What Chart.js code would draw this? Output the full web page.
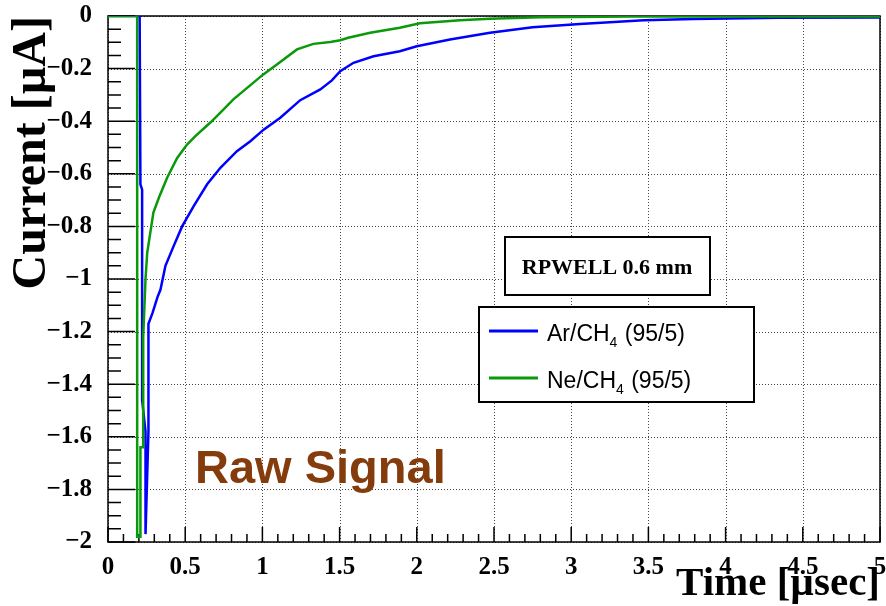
<!DOCTYPE html>
<html>
<head>
<meta charset="utf-8">
<script src="https://cdn.jsdelivr.net/npm/chart.js@4"></script>
<style>
  body { margin: 0; background: #fff; }
  #wrap { width: 886px; height: 606px; }
</style>
</head>
<body>
<div id="wrap"><canvas id="grafico" width="886" height="606"></canvas></div>
<script>
// Ar/CH4 (95/5) - tempo em usec, corrente em uA
var arTime    = [0, 0.205, 0.21, 0.221, 0.221, 0.243, 0.243, 0.262, 0.262, 0.288, 0.32, 0.34, 0.372, 0.425, 0.48, 0.555, 0.642, 0.728, 0.835, 0.922, 1.008, 1.116, 1.245, 1.375, 1.45, 1.504, 1.59, 1.72, 1.89, 2.0, 2.215, 2.474, 2.75, 3.056, 3.25, 3.47, 3.79, 4.35, 5.0];
var arCurrent = [0, 0, -0.64, -0.66, -1.46, -1.58, -1.97, -1.58, -1.17, -1.13, -1.07, -1.04, -0.95, -0.875, -0.8, -0.723, -0.64, -0.577, -0.514, -0.476, -0.432, -0.387, -0.32, -0.279, -0.245, -0.21, -0.178, -0.153, -0.134, -0.115, -0.089, -0.064, -0.043, -0.03, -0.024, -0.016, -0.011, -0.007, -0.006];

// Ne/CH4 (95/5)
var neTime    = [0, 0.189, 0.189, 0.2, 0.21, 0.21, 0.228, 0.228, 0.243, 0.254, 0.275, 0.294, 0.33, 0.383, 0.448, 0.512, 0.566, 0.663, 0.728, 0.812, 1.006, 1.094, 1.224, 1.33, 1.44, 1.504, 1.556, 1.698, 1.89, 2.02, 2.28, 2.47, 2.8, 3.4, 5.0];
var neCurrent = [0, 0, -1.98, -1.98, -1.98, -1.64, -1.64, -1.22, -1.0, -0.9, -0.82, -0.747, -0.69, -0.615, -0.54, -0.489, -0.457, -0.405, -0.367, -0.317, -0.222, -0.184, -0.127, -0.106, -0.099, -0.092, -0.083, -0.064, -0.045, -0.028, -0.016, -0.01, -0.005, -0.002, -0.002];

// eixos
var xTickValues = [0, 0.5, 1, 1.5, 2, 2.5, 3, 3.5, 4, 4.5, 5];
var xTickLabels = ['0', '0.5', '1', '1.5', '2', '2.5', '3', '3.5', '4', '4.5', '5'];
var yTickValues = [0, -0.2, -0.4, -0.6, -0.8, -1, -1.2, -1.4, -1.6, -1.8, -2];
var yTickLabels = ['0', '\u22120.2', '\u22120.4', '\u22120.6', '\u22120.8', '\u22121', '\u22121.2', '\u22121.4', '\u22121.6', '\u22121.8', '\u22122'];

var serif = 'Liberation Serif';
var sans = 'Liberation Sans';

function pares(xs, ys) {
    return xs.map(function (v, i) { return { x: v, y: ys[i] }; });
}

// grade pontilhada, moldura e marcas de escala (estilo ROOT, para dentro)
var moldura = {
    id: 'moldura',
    beforeDatasetsDraw: function (chart) {
        var ctx = chart.ctx, a = chart.chartArea;
        var x = chart.scales.x, y = chart.scales.y;
        ctx.save();
        // grade
        ctx.strokeStyle = '#444';
        ctx.lineWidth = 1;
        ctx.setLineDash([1, 2]);
        ctx.beginPath();
        xTickValues.forEach(function (v) {
            var px = Math.round(x.getPixelForValue(v)) + 0.5;
            ctx.moveTo(px, a.top);
            ctx.lineTo(px, a.bottom);
        });
        yTickValues.forEach(function (v) {
            var py = Math.round(y.getPixelForValue(v)) + 0.5;
            ctx.moveTo(a.left, py);
            ctx.lineTo(a.right, py);
        });
        ctx.stroke();
        ctx.setLineDash([]);

        // marcas
        ctx.strokeStyle = '#000';
        ctx.lineWidth = 1.5;
        ctx.beginPath();
        for (var i = 0; i <= 50; i++) {
            var px = x.getPixelForValue(i / 10);
            var lx = (i % 5 === 0) ? 15 : 8;
            ctx.moveTo(px, a.bottom);
            ctx.lineTo(px, a.bottom - lx);
        }
        for (var j = 0; j <= 40; j++) {
            var py = y.getPixelForValue(-j * 0.05);
            var ly = (j % 4 === 0) ? 27 : 13;
            ctx.moveTo(a.left, py);
            ctx.lineTo(a.left + ly, py);
        }
        ctx.stroke();
        ctx.strokeRect(a.left, a.top, a.right - a.left, a.bottom - a.top);
        ctx.restore();
    }
};

function textoComIndice(ctx, txt, x, y, size) {
    // "_4" vira subscrito
    var partes = txt.split('_');
    ctx.font = size + 'px "' + sans + '"';
    ctx.fillText(partes[0], x, y);
    x += ctx.measureText(partes[0]).width;
    if (partes.length > 1) {
        var sub = partes[1].charAt(0);
        var resto = partes[1].slice(1);
        ctx.font = Math.round(size * 0.62) + 'px "' + sans + '"';
        ctx.fillText(sub, x, y + 6);
        x += ctx.measureText(sub).width + 1;
        ctx.font = size + 'px "' + sans + '"';
        ctx.fillText(resto, x, y);
    }
}

// caixas de legenda e texto "Raw Signal"
var legendas = {
    id: 'legendas',
    afterDraw: function (chart) {
        var ctx = chart.ctx;
        ctx.save();
        ctx.lineWidth = 2;
        ctx.strokeStyle = '#000';
        ctx.fillStyle = '#fff';
        ctx.fillRect(505, 237, 205, 58);
        ctx.strokeRect(505, 237, 205, 58);
        ctx.fillStyle = '#000';
        ctx.font = 'bold 22px "' + serif + '"';
        ctx.textAlign = 'center';
        ctx.textBaseline = 'alphabetic';
        ctx.fillText('RPWELL 0.6 mm', 607, 274);

        ctx.fillStyle = '#fff';
        ctx.fillRect(479, 307, 275, 95);
        ctx.strokeRect(479, 307, 275, 95);
        ctx.textAlign = 'left';
        var linhas = [331, 378];
        chart.data.datasets.forEach(function (ds, i) {
            ctx.strokeStyle = ds.borderColor;
            ctx.lineWidth = 3;
            ctx.beginPath();
            ctx.moveTo(489, linhas[i]);
            ctx.lineTo(538, linhas[i]);
            ctx.stroke();
            ctx.fillStyle = '#000';
            textoComIndice(ctx, ds.label, 547, linhas[i] + 10, 23);
        });

        ctx.fillStyle = '#843c0c';
        ctx.font = 'bold 47px "' + sans + '"';
        ctx.fillText('Raw Signal', 195, 483);
        ctx.restore();
    }
};

function semPadding(s) {
    s.paddingTop = 0;
    s.paddingBottom = 0;
    s.paddingLeft = 0;
    s.paddingRight = 0;
}

var config = {
    type: 'scatter',
    data: {
        datasets: [{
            label: 'Ar/CH_4 (95/5)',
            data: pares(arTime, arCurrent),
            borderColor: '#0000ff',
            borderWidth: 2.5,
            showLine: true,
            pointRadius: 0,
            order: 1
        }, {
            label: 'Ne/CH_4 (95/5)',
            data: pares(neTime, neCurrent),
            borderColor: '#0a990a',
            borderWidth: 2.5,
            showLine: true,
            pointRadius: 0,
            order: 0
        }]
    },
    options: {
        responsive: false,
        animation: false,
        layout: { padding: { top: 16, right: 6, left: 0, bottom: 0 } },
        plugins: {
            legend: { display: false },
            tooltip: { enabled: false }
        },
        scales: {
            x: {
                type: 'linear',
                min: 0,
                max: 5,
                afterBuildTicks: function (s) { s.ticks = xTickValues.map(function (v) { return { value: v }; }); },
                afterFit: function (s) { s.height = 64; semPadding(s); },
                ticks: {
                    autoSkip: false,
                    maxRotation: 0,
                    padding: 3,
                    color: '#000',
                    font: { family: serif, weight: 'bold', size: 25 },
                    callback: function (v, i) { return xTickLabels[i]; }
                },
                grid: { display: false },
                border: { display: false },
                title: {
                    display: true,
                    text: 'Time [\u00b5sec]',
                    align: 'end',
                    color: '#000',
                    font: { family: serif, weight: 'bold', size: 41 },
                    padding: { top: 0, bottom: -3 }
                }
            },
            y: {
                type: 'linear',
                min: -2,
                max: 0,
                afterBuildTicks: function (s) { s.ticks = yTickValues.map(function (v) { return { value: v }; }); },
                afterFit: function (s) { s.width = 108; semPadding(s); },
                ticks: {
                    autoSkip: false,
                    padding: 8,
                    color: '#000',
                    font: { family: serif, weight: 'bold', size: 25 },
                    callback: function (v, i) { return yTickLabels[i]; }
                },
                grid: { display: false },
                border: { display: false },
                title: {
                    display: true,
                    text: 'Current [\u00b5A]',
                    align: 'end',
                    color: '#000',
                    font: { family: serif, weight: 'bold', size: 48 },
                    padding: { top: 4, bottom: 0 }
                }
            }
        }
    },
    plugins: [moldura, legendas]
};

var grafico = new Chart(document.getElementById('grafico'), config);
</script>
</body>
</html>
